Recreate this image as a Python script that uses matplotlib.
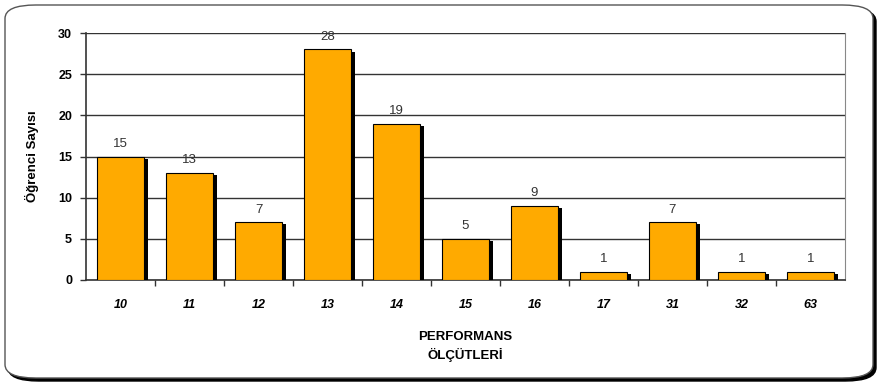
import matplotlib
matplotlib.use("Agg")
import matplotlib.pyplot as plt
from matplotlib.patches import FancyBboxPatch

categories = ["10", "11", "12", "13", "14", "15", "16", "17", "31", "32", "63"]
values = [15, 13, 7, 28, 19, 5, 9, 1, 7, 1, 1]
yticks = [0, 5, 10, 15, 20, 25, 30]

plt.rcParams['font.family'] = ['Liberation Sans', 'DejaVu Sans']

fig = plt.figure(figsize=(8.81, 3.85), dpi=100)

# outer rounded frame with shadow
shadow = FancyBboxPatch((8 / 881, 4 / 385), 868 / 881, 373 / 385,
                        boxstyle="round,pad=0,rounding_size=0.035",
                        transform=fig.transFigure, facecolor="black",
                        edgecolor="black", lw=1, zorder=0)
frame = FancyBboxPatch((5 / 881, 7 / 385), 868 / 881, 373 / 385,
                       boxstyle="round,pad=0,rounding_size=0.035",
                       transform=fig.transFigure, facecolor="white",
                       edgecolor="#555555", lw=1, zorder=1)
fig.patches.extend([shadow, frame])

ax = fig.add_axes([86 / 881, 105 / 385, 759 / 881, 247 / 385])
ax.set_zorder(2)
ax.patch.set_alpha(0)

x = list(range(len(categories)))
w = 0.67
# shadows
ax.bar([i + 0.06 for i in x], [v - 0.25 for v in values], bottom=0, width=w,
       color="black", zorder=3)
ax.bar(x, values, width=w, color="#FFAA00", edgecolor="black", lw=0.8, zorder=4)

for i, v in enumerate(values):
    ax.text(i, v + 0.8, str(v), ha="center", va="bottom", fontsize=9.5,
            color="#333333", zorder=5)

ax.set_xlim(-0.5, len(categories) - 0.5)
ax.set_ylim(0, 30)
ax.set_yticks(yticks)
ax.set_yticklabels([str(t) for t in yticks], fontsize=9, fontweight="bold")
ax.yaxis.grid(True, color="#333333", lw=1.0)
ax.set_axisbelow(True)

ax.set_xticks([i + 0.5 for i in x[:-1]], minor=True)
ax.set_xticks(x)
ax.set_xticklabels(categories, fontsize=9, fontweight="bold", style="italic")
ax.tick_params(axis="x", which="major", length=0, pad=14)
ax.tick_params(axis="x", which="minor", length=4, width=1, color="#333333",
               direction="out")
ax.tick_params(axis="y", length=4, width=1, color="#333333", pad=6)

ax.spines["top"].set_visible(False)
ax.spines["right"].set_color("#888888")
ax.spines["left"].set_color("#333333")
ax.spines["bottom"].set_color("#333333")
ax.spines["left"].set_linewidth(1.2)
ax.spines["bottom"].set_linewidth(1.2)

ax.set_ylabel("Öğrenci Sayısı", fontsize=9.5, fontweight="bold", labelpad=14)
ax.set_xlabel("PERFORMANS\nÖLÇÜTLERİ", fontsize=9.5, fontweight="bold",
              labelpad=14, linespacing=1.5)

fig.savefig("out.png", dpi=100)
